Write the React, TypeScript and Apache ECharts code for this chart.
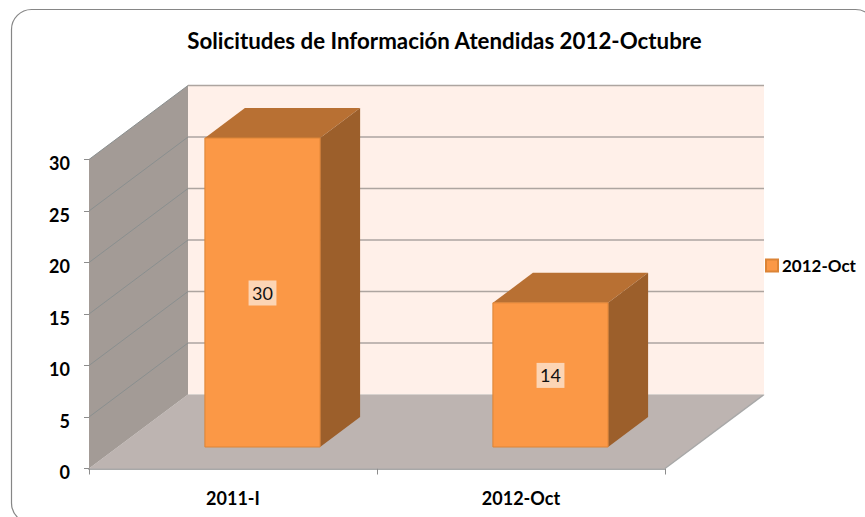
import React, { useEffect, useRef } from "react";
import * as echarts from "echarts";

const titleText = "Solicitudes de Información Atendidas 2012-Octubre";
const seriesName = "2012-Oct";
const categories = ["2011-I", "2012-Oct"];
const values = [30, 14];
const yTicks = [0, 5, 10, 15, 20, 25, 30];

const FONT = "Lato, 'Open Sans', sans-serif";
const DEPTH_X = 99;
const DEPTH_Y = -74;
const BAR_FRONT_DX = 29.5;
const BAR_FRONT_DY = -21.5;
const BAR_DX = 40;
const BAR_DY = -30;

function renderWalls(_params: any, api: any) {
  const [x0, y0] = api.coord([0, 0]).slice(0);
  const band = api.size([1, 0])[0];
  const left = x0 - band / 2;
  const right = left + band * categories.length;
  const topY = api.coord([0, yTicks[yTicks.length - 1]])[1];
  const poly = (points: number[][], fill: any) => ({
    type: "polygon",
    shape: { points },
    style: { fill },
  });
  const line = (x1: number, y1: number, x2: number, y2: number, stroke: string, lineWidth: number) => ({
    type: "line",
    shape: { x1, y1, x2, y2 },
    style: { stroke, lineWidth },
  });
  const children: any[] = [
    poly(
      [
        [left + DEPTH_X, topY + DEPTH_Y],
        [right + DEPTH_X, topY + DEPTH_Y],
        [right + DEPTH_X, y0 + DEPTH_Y],
        [left + DEPTH_X, y0 + DEPTH_Y],
      ],
      "#FFF0E9"
    ),
    poly(
      [
        [left + DEPTH_X, y0 + DEPTH_Y],
        [right + DEPTH_X, y0 + DEPTH_Y],
        [right, y0],
        [left, y0],
      ],
      "#BDB4B1"
    ),
    poly(
      [
        [left, topY],
        [left + DEPTH_X, topY + DEPTH_Y],
        [left + DEPTH_X, y0 + DEPTH_Y],
        [left, y0],
      ],
      "#A39B96"
    ),
  ];
  yTicks.forEach((t) => {
    const y = api.coord([0, t])[1];
    if (t > 0) {
      children.push(line(left, y, left + DEPTH_X, y + DEPTH_Y, "#8A8F8F", 1));
      children.push(line(left + DEPTH_X, y + DEPTH_Y, right + DEPTH_X, y + DEPTH_Y, "#ADA5A0", 1.5));
    }
  });
  children.push(line(right, y0, right + DEPTH_X, y0 + DEPTH_Y, "#A8A8A8", 1.5));
  children.push(line(left + DEPTH_X, y0 + DEPTH_Y, right + DEPTH_X, y0 + DEPTH_Y, "#D8D2CE", 1));
  return { type: "group", children };
}

function renderBar(params: any, api: any) {
  const cat = api.value(0);
  const val = api.value(1);
  const [cx, y0] = api.coord([cat, 0]);
  const yTop = api.coord([cat, val])[1];
  const w = api.size([1, 0])[0] * 0.4;
  const l = cx - w / 2 + BAR_FRONT_DX;
  const r = l + w;
  const t = yTop + BAR_FRONT_DY;
  const b = y0 + BAR_FRONT_DY;
  return {
    type: "group",
    children: [
      {
        type: "polygon",
        shape: { points: [[l, t], [l + BAR_DX, t + BAR_DY], [r + BAR_DX, t + BAR_DY], [r, t]] },
        style: { fill: "#B87033" },
      },
      {
        type: "polygon",
        shape: { points: [[r, t], [r + BAR_DX, t + BAR_DY], [r + BAR_DX, b + BAR_DY], [r, b]] },
        style: { fill: "#9C5F2B" },
      },
      {
        type: "rect",
        shape: { x: l, y: t, width: w, height: b - t },
        style: { fill: "#FB9846", stroke: "#DC8436", lineWidth: 1 },
      },
      {
        type: "text",
        style: {
          text: String(val),
          x: (l + r) / 2,
          y: (t + b) / 2 + 0.5,
          align: "center",
          verticalAlign: "middle",
          fill: "#111111",
          font: `400 18px ${FONT}`,
          backgroundColor: "#FCD5B5",
          padding: [4, 3.5, 3, 3.5],
        },
      },
    ],
  };
}

export default function App() {
  const ref = useRef<HTMLDivElement>(null);
  useEffect(() => {
    if (!ref.current) return;
    const chart = echarts.init(ref.current, undefined, { renderer: "svg" });
    chart.setOption({
      animation: false,
      backgroundColor: "#FFFFFF",
      title: {
        text: titleText,
        left: 439.5,
        top: 24,
        textAlign: "center",
        textStyle: { fontFamily: FONT, fontSize: 22.3, fontWeight: 700, color: "#000000" },
      },
      legend: {
        show: true,
        data: [seriesName],
        left: 765,
        top: 257,
        icon: "rect",
        itemWidth: 12,
        itemHeight: 12,
        itemGap: 0,
        padding: 0,
        textStyle: { fontFamily: FONT, fontSize: 17, fontWeight: 700, color: "#000000", padding: [0, 0, 0, -1] },
      },
      grid: { left: 89, top: 159.5, width: 576, height: 309 },
      xAxis: {
        type: "category",
        data: categories,
        axisLine: { show: true, lineStyle: { color: "#A8A8A8", width: 2 } },
        axisTick: { show: true, length: 6, lineStyle: { color: "#8C8C8C" } },
        axisLabel: { margin: 20, fontFamily: FONT, fontSize: 18, fontWeight: 700, color: "#000000" },
        splitLine: { show: false },
      },
      yAxis: {
        type: "value",
        min: 0,
        max: 30,
        interval: 5,
        axisLine: { show: true, lineStyle: { color: "#9A9A9A" } },
        axisTick: { show: true, length: 5, lineStyle: { color: "#8C8C8C" } },
        axisLabel: { margin: 19, fontFamily: FONT, fontSize: 18, fontWeight: 700, color: "#000000", verticalAlign: "top", lineHeight: 7 },
        splitLine: { show: false },
      },
      graphic: [
        {
          type: "rect",
          z: 100,
          silent: true,
          shape: { x: 11.5, y: 9.5, width: 864, height: 513.5, r: 20 },
          style: { fill: "none", stroke: "#868686", lineWidth: 1.2 },
        },
      ],
      series: [
        {
          type: "custom",
          name: "walls",
          silent: true,
          renderItem: renderWalls,
          data: [[0, 0]],
          encode: { x: 0, y: 1 },
          z: 1,
        },
        {
          type: "custom",
          name: seriesName,
          renderItem: renderBar,
          data: categories.map((_, i) => [i, values[i]]),
          encode: { x: 0, y: 1 },
          itemStyle: { color: "#FB9846", borderColor: "#DC8436", borderWidth: 1 },
          z: 2,
        },
      ],
    });
    return () => chart.dispose();
  }, []);
  return <div ref={ref} style={{ position: "absolute", left: 0, top: 0, width: 865, height: 517 }} />;
}
